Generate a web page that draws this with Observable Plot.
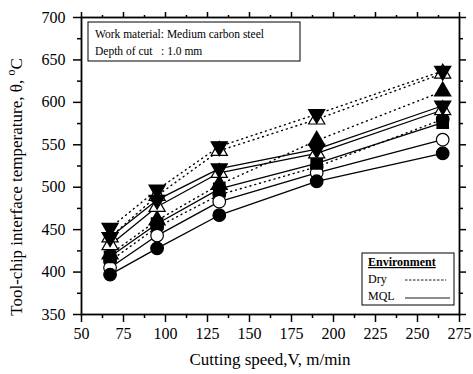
<!DOCTYPE html>
<html><head><meta charset="utf-8">
<script src="https://cdn.jsdelivr.net/npm/d3@7"></script>
<script src="https://cdn.jsdelivr.net/npm/@observablehq/plot@0.6"></script>
<style>
body{margin:0;background:#fff}
#chart{position:relative;width:473px;height:374px}
#chart svg text{font-family:"Liberation Serif","Times New Roman",serif}
</style>
</head><body><div id="chart"></div>
<script>
// Cutting speeds (m/min)
const speeds = [67, 95, 132, 190, 265];
// Dry environment (dotted lines)
const dryTriDown   = [452, 497, 548, 586, 637];
const dryTriUpOpen = [441, 490, 543, 580, 634];
const dryTriUp     = [421, 461, 503, 555, 613];
const dryCircle    = [413, 453, 491, 524, 580];
// MQL environment (solid lines)
const mqlTriDown   = [441, 485, 522, 545, 596];
const mqlTriUpOpen = [432, 477, 517, 540, 591];
const mqlSquare    = [418, 457, 498, 528, 576];
const mqlCircleOpen= [405, 443, 483, 517, 556];
const mqlCircle    = [397, 428, 467, 507, 540];
const xTicks = [50, 75, 100, 125, 150, 175, 200, 225, 250, 275];
const yTicks = [350, 400, 450, 500, 550, 600, 650, 700];

const seriesDefs = [
  {name: "dryTriDown", env: "Dry", marker: "tdown", fill: "black", values: dryTriDown},
  {name: "dryTriUpOpen", env: "Dry", marker: "tup", fill: "white", values: dryTriUpOpen},
  {name: "dryTriUp", env: "Dry", marker: "tup", fill: "black", values: dryTriUp},
  {name: "dryCircle", env: "Dry", marker: "circle", fill: "black", values: dryCircle},
  {name: "mqlTriDown", env: "MQL", marker: "tdown", fill: "black", values: mqlTriDown},
  {name: "mqlTriUpOpen", env: "MQL", marker: "tup", fill: "white", values: mqlTriUpOpen},
  {name: "mqlSquare", env: "MQL", marker: "square", fill: "black", values: mqlSquare},
  {name: "mqlCircleOpen", env: "MQL", marker: "circle", fill: "white", values: mqlCircleOpen},
  {name: "mqlCircle", env: "MQL", marker: "circle", fill: "black", values: mqlCircle}
];
const rows = seriesDefs.flatMap(s => s.values.map((v, i) => ({x: speeds[i], y: v, series: s.name, env: s.env, marker: s.marker, fill: s.fill})));

const s3 = Math.sqrt(3);
const triangleDown = {draw(ctx, size) {
  const y = -Math.sqrt(size / (s3 * 3));
  ctx.moveTo(0, -y * 2); ctx.lineTo(-s3 * y, y); ctx.lineTo(s3 * y, y); ctx.closePath();
}};
const triangleUp = {draw(ctx, size) {
  const y = -Math.sqrt(size / (s3 * 3));
  ctx.moveTo(0, y * 2); ctx.lineTo(-s3 * y, -y); ctx.lineTo(s3 * y, -y); ctx.closePath();
}};

const minorX = d3.range(62.5, 275, 25);
const minorY = d3.range(375, 700, 50);

const dotMark = (m, sym, r) => Plot.dot(rows.filter(d => d.marker === m), {x: "x", y: "y", symbol: () => sym, r, fill: "fill", stroke: "black", strokeWidth: 1.2});

const plot = Plot.plot({
  width: 473, height: 374,
  marginLeft: 81, marginRight: 14, marginTop: 17, marginBottom: 60,
  style: {fontFamily: "Liberation Serif, Times New Roman, serif", fontSize: "16px", background: "white", color: "black"},
  x: {domain: [50, 275]},
  y: {domain: [350, 700]},
  symbol: {type: "identity"},
  color: {type: "identity"},
  marks: [
    Plot.axisX({ticks: xTicks, tickSize: 8, tickPadding: 5, strokeWidth: 1.5, fontSize: 16, label: null}),
    Plot.axisX({ticks: minorX, tickSize: 4, strokeWidth: 1.5, text: null, label: null}),
    Plot.axisX({anchor: "top", ticks: xTicks, tickSize: 6, strokeWidth: 1.5, text: null, label: null}),
    Plot.axisX({anchor: "top", ticks: minorX, tickSize: 3, strokeWidth: 1.5, text: null, label: null}),
    Plot.axisY({ticks: yTicks, tickSize: 8, tickPadding: 8, strokeWidth: 1.5, fontSize: 16, label: null}),
    Plot.axisY({ticks: minorY, tickSize: 4, strokeWidth: 1.5, text: null, label: null}),
    Plot.axisY({anchor: "right", ticks: yTicks, tickSize: 6, strokeWidth: 1.5, text: null, label: null}),
    Plot.axisY({anchor: "right", ticks: minorY, tickSize: 3, strokeWidth: 1.5, text: null, label: null}),
    Plot.frame({stroke: "black", strokeWidth: 1.8}),
    Plot.line(rows.filter(d => d.env === "Dry"), {x: "x", y: "y", z: "series", stroke: "black", strokeWidth: 1.4, strokeDasharray: "1,4", strokeLinecap: "round"}),
    Plot.line(rows.filter(d => d.env === "MQL"), {x: "x", y: "y", z: "series", stroke: "black", strokeWidth: 1.3}),
    dotMark("circle", "circle", 6.3),
    Plot.dot(rows.filter(d => d.marker === "square"), {x: "x", y: "y", symbol: "square", r: 6.3, fill: "black", stroke: "black"}),
    dotMark("tup", triangleUp, 6),
    dotMark("tdown", triangleDown, 6)
  ]
});

const svg = d3.select(plot);
const txt = (x, y, s, size) => svg.append("text").attr("x", x).attr("y", y).attr("text-anchor", "start")
  .attr("font-size", size).attr("fill", "black").attr("xml:space", "preserve").text(s);
// Axis titles
svg.append("text").attr("x", 270).attr("y", 365).attr("text-anchor", "middle")
  .attr("font-size", 17).attr("fill", "black").text("Cutting speed,V, m/min");
const yl = svg.append("text").attr("transform", "translate(22,187) rotate(-90)").attr("text-anchor", "middle")
  .attr("font-size", 17).attr("fill", "black");
yl.append("tspan").text("Tool-chip interface temperature, θ, ");
yl.append("tspan").attr("font-size", 12).attr("dy", -7).text("o");
yl.append("tspan").attr("dy", 7).text("C");
// Annotation box
svg.append("rect").attr("x", 88).attr("y", 22).attr("width", 212).attr("height", 39)
  .attr("fill", "white").attr("stroke", "black").attr("stroke-width", 1);
txt(95, 38, "Work material: Medium carbon steel", 11.5);
txt(95, 55, "Depth of cut   : 1.0 mm", 11.5);
// Legend box
svg.append("rect").attr("x", 362).attr("y", 253).attr("width", 92).attr("height", 52)
  .attr("fill", "white").attr("stroke", "black").attr("stroke-width", 1);
txt(368, 266, "Environment", 12).attr("font-weight", "bold").attr("text-decoration", "underline");
txt(368, 283, "Dry", 12);
svg.append("line").attr("x1", 405).attr("x2", 446).attr("y1", 280).attr("y2", 280).attr("stroke", "black").attr("stroke-width", 0.9).attr("stroke-dasharray", "2.5,1.5");
txt(368, 300, "MQL", 12);
svg.append("line").attr("x1", 405).attr("x2", 450).attr("y1", 298).attr("y2", 298).attr("stroke", "black").attr("stroke-width", 0.9);

document.getElementById("chart").appendChild(plot);
</script>
</body></html>
